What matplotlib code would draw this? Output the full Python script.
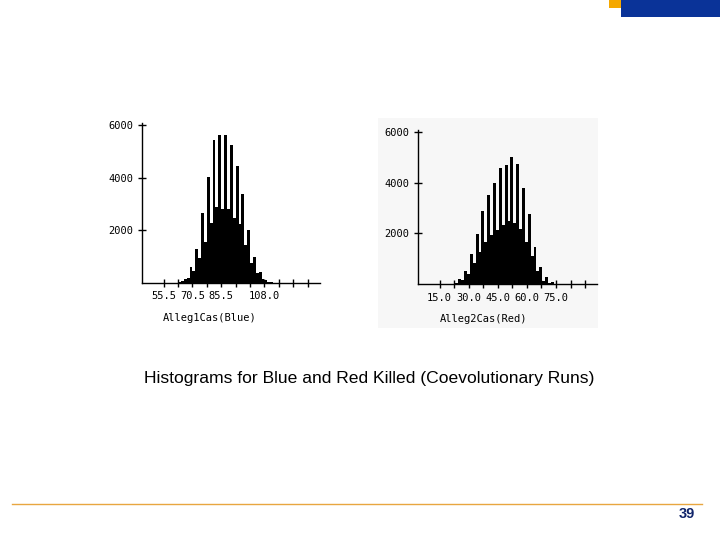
import matplotlib
matplotlib.use("Agg")
import matplotlib.pyplot as plt
from matplotlib.patches import Rectangle

# histogram data (bin width 1.5)
blue_start = 63.0
blue_counts = [30, 60, 170, 190, 620, 460, 1300, 970, 2670, 1560, 4040, 2300,
               5460, 2900, 5650, 2800, 5650, 2820, 5270, 2480, 4470, 2250,
               3390, 1450, 2020, 775, 1000, 370, 430, 150, 110, 50, 30]
red_start = 23.2
red_counts = [40, 210, 180, 520, 400, 1180, 850, 1980, 1280, 2880, 1660, 3500,
              1930, 3980, 2120, 4570, 2320, 4690, 2490, 5010, 2400, 4730,
              2180, 3790, 1650, 2760, 1130, 1470, 540, 690, 145, 280, 50, 100, 15]

blue_ticks = [55.5 + 7.5 * i for i in range(11)]
blue_labels = ["55.5", "", "70.5", "", "85.5", "", "", "108.0", "", "", ""]
red_ticks = [15.0 + 7.5 * i for i in range(11)]
red_labels = ["15.0", "", "30.0", "", "45.0", "", "60.0", "", "75.0", "", ""]
y_ticks = [2000, 4000, 6000]

mono = "DejaVu Sans Mono"

fig = plt.figure(figsize=(7.2, 5.4), dpi=100)

# faint grey backdrop behind the right histogram
fig.patches.append(Rectangle((378 / 720, 1 - 328 / 540), 220 / 720, 210 / 540,
                             transform=fig.transFigure, facecolor="#f7f7f7",
                             edgecolor="none", zorder=-5))


def draw_hist(rect, start, counts, width, ticks, labels, xlim, ylim, xlabel, label_x):
    ax = fig.add_axes(rect, zorder=2)
    ax.patch.set_alpha(0)
    xs = [start + i * width for i in range(len(counts))]
    ax.bar(xs, counts, width=width, align="edge", color="black", linewidth=0)
    ax.set_xlim(*xlim)
    ax.set_ylim(*ylim)
    ax.spines["top"].set_visible(False)
    ax.spines["right"].set_visible(False)
    ax.spines["left"].set_linewidth(1)
    ax.spines["bottom"].set_linewidth(1)
    ax.set_xticks(ticks)
    ax.set_xticklabels(labels, fontfamily=mono, fontsize=7.5)
    ax.set_yticks(y_ticks)
    ax.set_yticklabels([str(v) for v in y_ticks], fontfamily=mono, fontsize=7.5)
    ax.tick_params(direction="inout", length=6, width=1, pad=3)
    ax.set_xlabel(xlabel, fontfamily=mono, fontsize=7.5)
    ax.xaxis.set_label_coords(label_x, -0.19)
    return ax


draw_hist([142 / 720, 1 - 283 / 540, 178 / 720, 160 / 540],
          blue_start, blue_counts, 1.5, blue_ticks, blue_labels,
          (44.25, 136.9), (0, 6090), "Alleg1Cas(Blue)", 0.382)
draw_hist([417.7 / 720, 1 - 284.3 / 540, 179.3 / 720, 154.3 / 540],
          red_start, red_counts, 1.49, red_ticks, red_labels,
          (3.75, 96.1), (0, 6065), "Alleg2Cas(Red)", 0.367)

fig.text(369.5 / 720, 1 - 378 / 540,
         "Histograms for Blue and Red Killed (Coevolutionary Runs)",
         ha="center", va="center", fontsize=12.6, family="Liberation Sans")

# slide decorations
fig.patches.append(Rectangle((609 / 720, 1 - 8.3 / 540), 12 / 720, 8.3 / 540,
                             transform=fig.transFigure, facecolor="#f5a800",
                             edgecolor="none"))
fig.patches.append(Rectangle((620.7 / 720, 1 - 17.3 / 540), 99.3 / 720, 17.3 / 540,
                             transform=fig.transFigure, facecolor="#0a3398",
                             edgecolor="none"))
fig.add_artist(plt.Line2D([12 / 720, 702 / 720], [1 - 504 / 540, 1 - 504 / 540],
                          color="#e8a640", linewidth=1))
fig.text(686.5 / 720, 1 - 514 / 540, "39", ha="center", va="center",
         fontsize=10.5, fontweight="bold", color="#10246a", family="Liberation Sans")

fig.savefig("out.png", dpi=100)
